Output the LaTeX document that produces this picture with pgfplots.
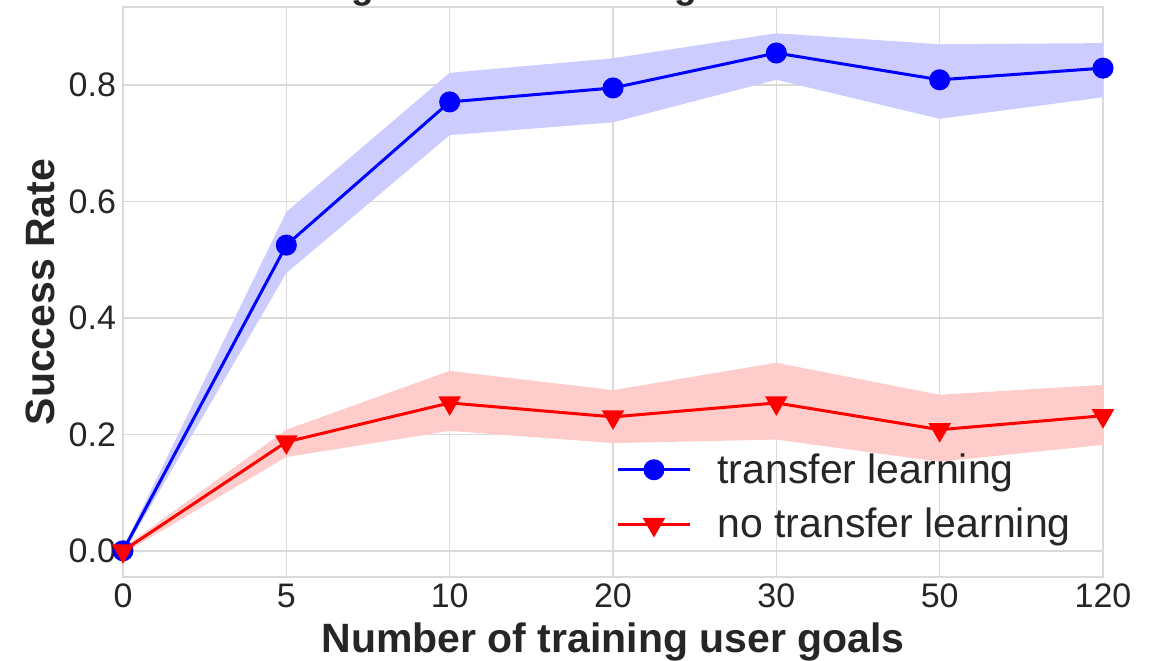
\documentclass[border=0pt]{standalone}
\usepackage{fontspec}
\setmainfont{Liberation Sans}
\usepackage{pgfplots}
\pgfplotsset{compat=1.18}
\definecolor{gridc}{RGB}{218,218,218}
\definecolor{txt}{RGB}{38,38,38}
\definecolor{bandblue}{RGB}{204,204,255}
\definecolor{bandred}{RGB}{255,204,204}
\begin{document}
\begin{tikzpicture}
\useasboundingbox (0pt,0pt) rectangle (581pt,330pt);
\node[anchor=base, font=\fontsize{18.5}{18.5}\selectfont\bfseries, text=txt, inner sep=0pt] at (306.5pt,330.8pt) {Testing Transfer Learning on Taxi Domain};
\begin{axis}[
  at={(61.5pt,41.5pt)}, anchor=south west,
  scale only axis, width=490pt, height=285pt,
  xmin=0, xmax=6, ymin=-0.045, ymax=0.934,
  xtick={0,1,2,3,4,5,6},
  xticklabels={0,5,10,20,30,50,120},
  ytick={0,0.2,0.4,0.6,0.8},
  yticklabel style={/pgf/number format/fixed, /pgf/number format/fixed zerofill, /pgf/number format/precision=1},
  /pgf/number format/assume math mode=true,
  ticklabel style={font=\fontsize{17}{17}\selectfont, text=txt},
  major tick length=0pt,
  tick style={draw=none},
  grid=major,
  grid style={gridc, line width=0.75pt},
  axis line style={gridc, line width=1pt},
  xlabel={\textbf{Number of training user goals}},
  ylabel={\textbf{Success Rate}},
  label style={font=\fontsize{20.5}{20.5}\selectfont, text=txt},
  xlabel style={at={(axis description cs:0.5,-0.1333)}, anchor=base},
  ylabel style={at={(axis description cs:-0.0847,0.5)}, anchor=center},
  legend style={draw=none, fill=none, at={(axis description cs:0.497,0.2316)}, anchor=north west,
    font=\fontsize{20.5}{20.5}\selectfont, text=txt, row sep=7pt,
    /tikz/every odd column/.append style={column sep=11pt}},
  legend cell align=left,
  legend image code/.code={\draw[mark repeat=2,mark phase=2] plot coordinates {(0pt,0pt) (18pt,0pt) (36pt,0pt)};},
]
\addplot[fill=bandblue, draw=none, forget plot] coordinates {
 (0,0.005) (1,0.582) (2,0.821) (3,0.846) (4,0.889) (5,0.870) (6,0.872)
 (6,0.779) (5,0.742) (4,0.809) (3,0.736) (2,0.714) (1,0.477) (0,-0.005)} -- cycle;
\addplot[fill=bandred, draw=none, forget plot] coordinates {
 (0,0.005) (1,0.208) (2,0.309) (3,0.276) (4,0.323) (5,0.268) (6,0.285)
 (6,0.182) (5,0.153) (4,0.191) (3,0.185) (2,0.206) (1,0.161) (0,-0.005)} -- cycle;
\addplot[blue, line width=1.5pt, mark=*, mark size=4.5pt, mark options={solid}] coordinates {
 (0,0.0) (1,0.525) (2,0.771) (3,0.795) (4,0.855) (5,0.809) (6,0.829)};
\addlegendentry{transfer learning}
\addplot[red, line width=1.5pt, mark=triangle*, mark size=5pt, mark options={solid, rotate=180}] coordinates {
 (0,0.0) (1,0.187) (2,0.254) (3,0.230) (4,0.254) (5,0.208) (6,0.232)};
\addlegendentry{no transfer learning}
\end{axis}
\end{tikzpicture}
\end{document}
